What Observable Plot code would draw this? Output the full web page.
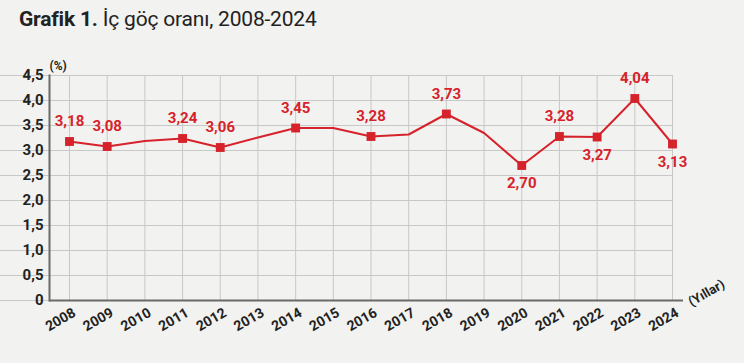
<!DOCTYPE html>
<html><head><meta charset="utf-8">
<script src="https://cdn.jsdelivr.net/npm/d3@7"></script>
<script src="https://cdn.jsdelivr.net/npm/@observablehq/plot@0.6"></script>
<style>
html,body{margin:0;padding:0;background:#f2f2f0;}
#wrap{width:744px;height:363px;position:relative;overflow:hidden;font-family:Roboto,sans-serif;}
#title{position:absolute;left:19px;top:7px;font-size:21px;color:#222;letter-spacing:-0.2px;white-space:nowrap;}
#title b{font-weight:700;}
#chart{position:absolute;left:0;top:45px;}
</style></head>
<body><div id="wrap"><div id="title"><b>Grafik 1.</b> İç göç oranı, 2008-2024</div><div id="chart"></div></div>
<script>
const years = [2008,2009,2010,2011,2012,2013,2014,2015,2016,2017,2018,2019,2020,2021,2022,2023,2024];
const rates = [3.18,3.08,3.19,3.24,3.06,3.26,3.45,3.45,3.28,3.32,3.73,3.35,2.70,3.28,3.27,4.04,3.13];
const labeledYears = [2008,2009,2011,2012,2014,2016,2018,2020,2021,2022,2023,2024];
const belowYears = [2020,2022,2024];
const yTicks = [0,0.5,1,1.5,2,2.5,3,3.5,4,4.5];
const yUnit = "(%)";
const xUnit = "(Yıllar)";

const data = years.map((y,i)=>({year:y, rate:rates[i]}));
const marked = data.filter(d=>labeledYears.includes(d.year));
const above = marked.filter(d=>!belowYears.includes(d.year));
const below = marked.filter(d=>belowYears.includes(d.year));
const fmt = v => v === 0 ? "0" : v.toFixed(1).replace(".", ",");
const fmt2 = v => v.toFixed(2).replace(".", ",");
const red = "#d6222b";
const lastYear = years[years.length-1];

const chart = Plot.plot({
  width:744, height:318,
  marginLeft:49, marginRight:61, marginTop:30, marginBottom:63,
  style:{fontFamily:"Roboto, sans-serif", background:"transparent", overflow:"visible"},
  x:{type:"linear", domain:[years[0], lastYear], range:[69,672]},
  y:{domain:[0,4.5]},
  marks:[
    Plot.ruleX(years, {stroke:"#c8c8c8", strokeWidth:1}),
    Plot.ruleY(yTicks, {x2: () => lastYear, stroke:"#c8c8c8", strokeWidth:1}),
    Plot.frame({anchor:"left", stroke:"#6a6a6a", strokeWidth:2}),
    Plot.ruleY([0], {stroke:"#6a6a6a", strokeWidth:2}),
    Plot.axisY({ticks:yTicks, tickFormat:fmt, tickSize:0, tickPadding:6, fontSize:15, fontWeight:"bold", fill:"#222", label:null}),
    Plot.axisX({ticks:years, tickFormat:d=>String(d), tickSize:0, tickPadding:11, tickRotate:-30, fontSize:14, fontWeight:"bold", fill:"#222", label:null, dx:5}),
    Plot.text([yUnit], {frameAnchor:"top-left", dy:-14, dx:0, fontSize:12, fontWeight:"bold", fill:"#222"}),
    Plot.text([xUnit], {frameAnchor:"bottom-right", dx:8, dy:6, textAnchor:"start", rotate:-30, fontSize:13, fontWeight:"bold", fill:"#222"}),
    Plot.line(data, {x:"year", y:"rate", stroke:red, strokeWidth:2}),
    Plot.dot(marked, {x:"year", y:"rate", symbol:"square", r:5, fill:red, stroke:"none"}),
    Plot.text(above, {x:"year", y:"rate", text:d=>fmt2(d.rate), dy:-20, fill:red, fontSize:15, fontWeight:"bold"}),
    Plot.text(below, {x:"year", y:"rate", text:d=>fmt2(d.rate), dy:18, fill:red, fontSize:15, fontWeight:"bold"})
  ]
});
document.getElementById("chart").appendChild(chart);
</script></body></html>
